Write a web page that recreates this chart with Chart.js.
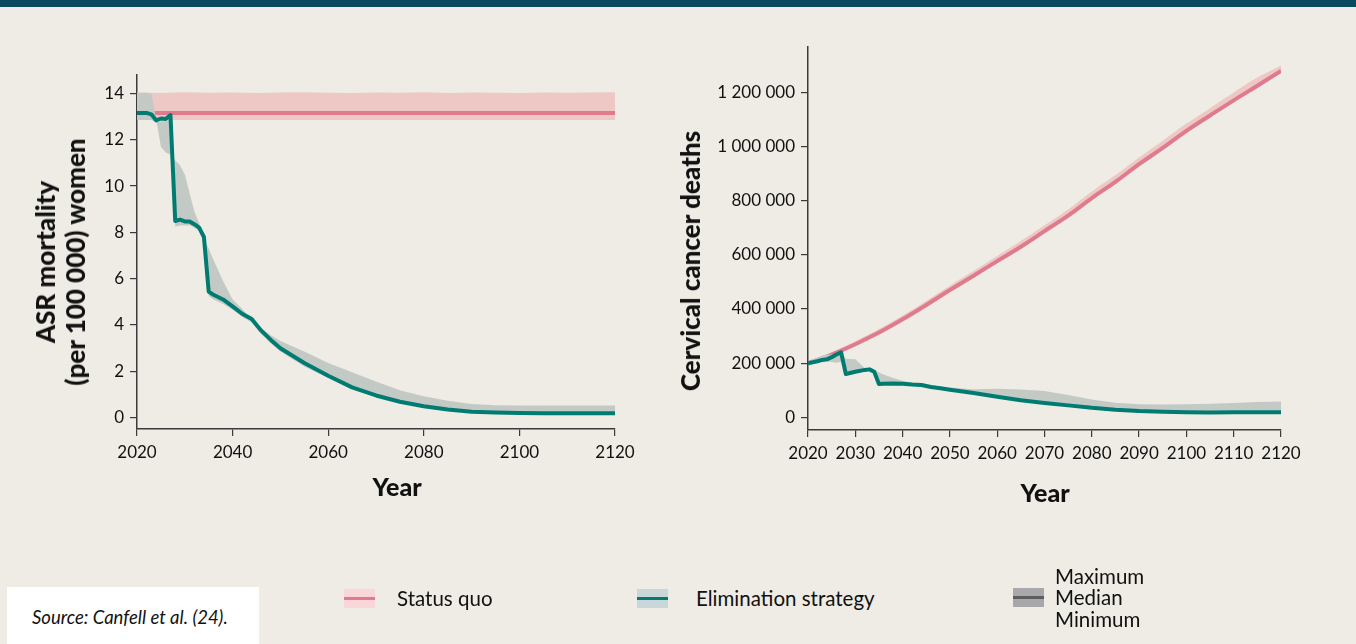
<!DOCTYPE html>
<html>
<head>
<meta charset="utf-8">
<script src="https://cdn.jsdelivr.net/npm/chart.js@4.4.1/dist/chart.umd.min.js"></script>
<style>
  body { margin: 0; width: 1356px; height: 644px; background: #efece5; position: relative; overflow: hidden; font-family: Lato, sans-serif; color: #111; }
  .bar { position: absolute; left: 0; top: 0; width: 1356px; height: 7px; background: #0b4a5e; }
  .wrap { position: absolute; top: 0; height: 530px; }
  .ytitle { position: absolute; transform: translate(-50%, -50%) rotate(-90deg); font-weight: 900; font-size: 26px; text-align: center; line-height: 30px; white-space: nowrap; }
  .xtitle { position: absolute; transform: translate(-50%, -50%); font-weight: 900; font-size: 25px; }
  .source { position: absolute; left: 7px; top: 587px; width: 252px; height: 57px; background: #fff; }
  .source span { position: absolute; left: 25px; top: 19px; font-style: italic; font-size: 18.5px; }
  .sw { position: absolute; width: 31px; height: 19px; }
  .sw i { position: absolute; left: 0; right: 0; top: 8px; height: 3px; }
  .lg { position: absolute; font-size: 20.5px; transform: translateY(-50%); white-space: nowrap; }
</style>
</head>
<body>
<div class="bar"></div>

<div class="wrap" style="left:0;width:660px"><canvas id="asrChart"></canvas></div>
<div class="wrap" style="left:660px;width:696px"><canvas id="deathChart"></canvas></div>

<div class="ytitle" style="left:60px;top:262px">ASR mortality<br>(per 100 000) women</div>
<div class="xtitle" style="left:397px;top:486px">Year</div>
<div class="ytitle" style="left:690px;top:261px">Cervical cancer deaths</div>
<div class="xtitle" style="left:1045px;top:492px">Year</div>

<div class="sw" style="left:344px;top:589px;background:#f9d6da"><i style="background:#e07b8e"></i></div>
<div class="lg" style="left:397px;top:598px">Status quo</div>
<div class="sw" style="left:637px;top:589px;background:#c9d7d8"><i style="background:#007b72"></i></div>
<div class="lg" style="left:696px;top:598px">Elimination strategy</div>
<div class="sw" style="left:1013px;top:588px;background:#a8a8ab"><i style="background:#5d5d60"></i></div>
<div class="lg" style="left:1055px;top:576px">Maximum</div>
<div class="lg" style="left:1055px;top:597px">Median</div>
<div class="lg" style="left:1055px;top:619px">Minimum</div>

<div class="source"><span>Source: Canfell et al. (24).</span></div>

<script>
// left panel: ASR mortality per 100 000 women
const asrYears = [2020, 2021, 2022, 2023, 2024, 2025, 2026, 2027, 2028, 2029, 2030, 2031, 2032, 2033, 2034, 2035, 2036, 2038, 2040, 2042, 2044, 2046, 2048, 2050, 2055, 2060, 2065, 2070, 2075, 2080, 2085, 2090, 2095, 2100, 2105, 2110, 2115, 2120];
const asrElimMed = [13.16, 13.16, 13.16, 13.1, 12.84, 12.92, 12.9, 13.07, 8.49, 8.55, 8.47, 8.47, 8.35, 8.2, 7.8, 5.44, 5.3, 5.1, 4.8, 4.48, 4.25, 3.75, 3.35, 2.99, 2.35, 1.8, 1.3, 0.95, 0.68, 0.48, 0.34, 0.25, 0.21, 0.19, 0.18, 0.18, 0.18, 0.18];
const asrElimMax = [14.03, 14.03, 14.03, 14.0, 12.9, 11.7, 11.45, 11.35, 11.1, 10.9, 10.5, 9.7, 8.9, 8.4, 7.7, 7.3, 6.8, 5.9, 5.1, 4.7, 4.2, 3.85, 3.55, 3.3, 2.85, 2.35, 1.95, 1.55, 1.18, 0.92, 0.72, 0.58, 0.53, 0.52, 0.52, 0.52, 0.52, 0.52];
const asrElimMin = [12.86, 12.86, 12.86, 12.85, 12.75, 12.8, 12.8, 12.9, 8.25, 8.3, 8.3, 8.3, 8.2, 8.05, 7.6, 5.25, 5.1, 4.9, 4.65, 4.35, 4.1, 3.6, 3.2, 2.85, 2.2, 1.7, 1.22, 0.9, 0.64, 0.45, 0.31, 0.22, 0.18, 0.16, 0.16, 0.16, 0.16, 0.16];

const sqYears = [2020, 2025, 2030, 2035, 2040, 2045, 2050, 2055, 2060, 2065, 2070, 2075, 2080, 2085, 2090, 2095, 2100, 2105, 2110, 2115, 2120];
const asrSqMed = [13.16, 13.16, 13.16, 13.16, 13.16, 13.16, 13.16, 13.16, 13.16, 13.16, 13.16, 13.16, 13.16, 13.16, 13.16, 13.16, 13.16, 13.16, 13.16, 13.16, 13.16];
const asrSqMax = [14.04, 14.02, 14.05, 14.03, 14.04, 14.02, 14.04, 14.05, 14.03, 14.02, 14.04, 14.03, 14.05, 14.02, 14.04, 14.03, 14.02, 14.04, 14.03, 14.04, 14.05];
const asrSqMin = [12.86, 12.86, 12.86, 12.86, 12.86, 12.86, 12.86, 12.86, 12.86, 12.86, 12.86, 12.86, 12.86, 12.86, 12.86, 12.86, 12.86, 12.86, 12.86, 12.86, 12.86];

// right panel: cervical cancer deaths
const deathSqMed = [200000, 232000, 270000, 313000, 362000, 415000, 470000, 523000, 577000, 630000, 688000, 745000, 810000, 870000, 935000, 995000, 1058000, 1115000, 1171000, 1225000, 1280000];
const deathSqMax = [206000, 240000, 281000, 326000, 376000, 430000, 486000, 541000, 596000, 651000, 709000, 768000, 834000, 895000, 960000, 1022000, 1085000, 1142000, 1200000, 1255000, 1300000];
const deathSqMin = [197000, 229000, 267000, 310000, 358000, 411000, 466000, 519000, 573000, 626000, 684000, 741000, 806000, 866000, 931000, 991000, 1054000, 1111000, 1167000, 1221000, 1276000];

const deathYears = [2020, 2022, 2023, 2024, 2025, 2026, 2027, 2028, 2030, 2032, 2033, 2034, 2035, 2036, 2038, 2040, 2042, 2044, 2046, 2048, 2050, 2055, 2060, 2065, 2070, 2075, 2080, 2085, 2090, 2095, 2100, 2105, 2110, 2115, 2120];
const deathElimMed = [199000, 207000, 212000, 214000, 222000, 232000, 240000, 160000, 168000, 175000, 177000, 168000, 123000, 124000, 125000, 124000, 121000, 119000, 112000, 107000, 102000, 90000, 76000, 63000, 53000, 44000, 35000, 28000, 23000, 20000, 18500, 18000, 18500, 18500, 19000];
const deathElimMax = [205000, 220000, 228000, 232000, 232000, 230000, 242000, 216000, 214000, 182000, 178000, 176000, 165000, 158000, 145000, 135000, 128000, 124000, 118000, 114000, 110000, 104000, 105000, 103000, 97000, 82000, 66000, 54000, 48000, 47000, 48000, 50000, 53000, 56000, 58000];
const deathElimMin = [196000, 203000, 207000, 205000, 204000, 201000, 205000, 156000, 164000, 171000, 173000, 164000, 119000, 120000, 121000, 120000, 117000, 115000, 108000, 103000, 98000, 86000, 72000, 59000, 49000, 40000, 31000, 24000, 19000, 16000, 15000, 14500, 15000, 15000, 15500];

const asrTicks = [0, 2, 4, 6, 8, 10, 12, 14];
const asrYearTicks = [2020, 2040, 2060, 2080, 2100, 2120];
const deathTicks = [0, 200000, 400000, 600000, 800000, 1000000, 1200000];
const deathYearTicks = [2020, 2030, 2040, 2050, 2060, 2070, 2080, 2090, 2100, 2110, 2120];

const PINK = '#e07b8e', PINK_BAND = '#edc8c4', TEAL = '#007b72', GREY_BAND = '#c3cac5', AXIS = '#3a3a3a';

Chart.defaults.font.family = 'Lato, sans-serif';
Chart.defaults.font.size = 17;
Chart.defaults.color = '#111';

const pts = (xs, ys) => xs.map((x, i) => ({x: x, y: ys[i]}));

function band(xs, hi, lo, color, order, tension) {
  return [
    {data: pts(xs, hi), fill: '+1', backgroundColor: color, borderWidth: 0, pointRadius: 0, order: order, tension: tension},
    {data: pts(xs, lo), fill: false, borderWidth: 0, pointRadius: 0, order: order, tension: tension}
  ];
}
function line(xs, ys, color, width, order, tension) {
  return {data: pts(xs, ys), fill: false, borderColor: color, borderWidth: width, pointRadius: 0, borderJoinStyle: 'round', order: order, tension: tension};
}

function axis(extra) {
  return Object.assign({
    type: 'linear',
    border: {display: true, color: AXIS, width: 1.5},
    grid: {drawOnChartArea: false, drawTicks: true, tickLength: 7, color: AXIS, lineWidth: 1.2}
  }, extra);
}

function makeChart(id, opts) {
  return new Chart(document.getElementById(id), {
    type: 'line',
    data: {datasets: [
      ...band(opts.sqX, opts.sqMax, opts.sqMin, PINK_BAND, 6, opts.sqTension),
      line(opts.sqX, opts.sqMed, PINK, 4, 5, opts.sqTension),
      ...band(opts.elX, opts.elMax, opts.elMin, GREY_BAND, 4, 0),
      line(opts.elX, opts.elMed, TEAL, 4, 3, 0)
    ]},
    options: {
      responsive: true, maintainAspectRatio: false, animation: false,
      layout: {padding: opts.padding},
      plugins: {legend: {display: false}, tooltip: {enabled: false}},
      scales: {
        x: axis({
          min: 2020, max: 2120,
          afterBuildTicks: s => { s.ticks = opts.xTicks.map(v => ({value: v})); },
          afterFit: s => { s.height = opts.xHeight; },
          ticks: {padding: 6, color: '#111', autoSkip: false, maxRotation: 0, callback: v => String(v)}
        }),
        y: axis({
          min: opts.yMin, max: opts.yMax,
          afterBuildTicks: s => { s.ticks = opts.yTicks.map(v => ({value: v})); },
          afterFit: s => { s.width = opts.yWidth; },
          ticks: {padding: 6, color: '#111', callback: opts.yFmt}
        })
      }
    }
  });
}

makeChart('asrChart', {
  sqX: sqYears, sqMed: asrSqMed, sqMax: asrSqMax, sqMin: asrSqMin, sqTension: 0,
  elX: asrYears, elMed: asrElimMed, elMax: asrElimMax, elMin: asrElimMin,
  xTicks: asrYearTicks, yTicks: asrTicks, yMin: -0.5, yMax: 14.8,
  padding: {top: 75, right: 45, left: 0, bottom: 0}, xHeight: 101, yWidth: 137,
  yFmt: v => String(v)
});

makeChart('deathChart', {
  sqX: sqYears, sqMed: deathSqMed, sqMax: deathSqMax, sqMin: deathSqMin, sqTension: 0.4,
  elX: deathYears, elMed: deathElimMed, elMax: deathElimMax, elMin: deathElimMin,
  xTicks: deathYearTicks, yTicks: deathTicks, yMin: -47000, yMax: 1368000,
  padding: {top: 47, right: 75, left: 0, bottom: 0}, xHeight: 100, yWidth: 148,
  yFmt: v => String(v).replace(/\B(?=(\d{3})+(?!\d))/g, ' ')
});
</script>
</body>
</html>
